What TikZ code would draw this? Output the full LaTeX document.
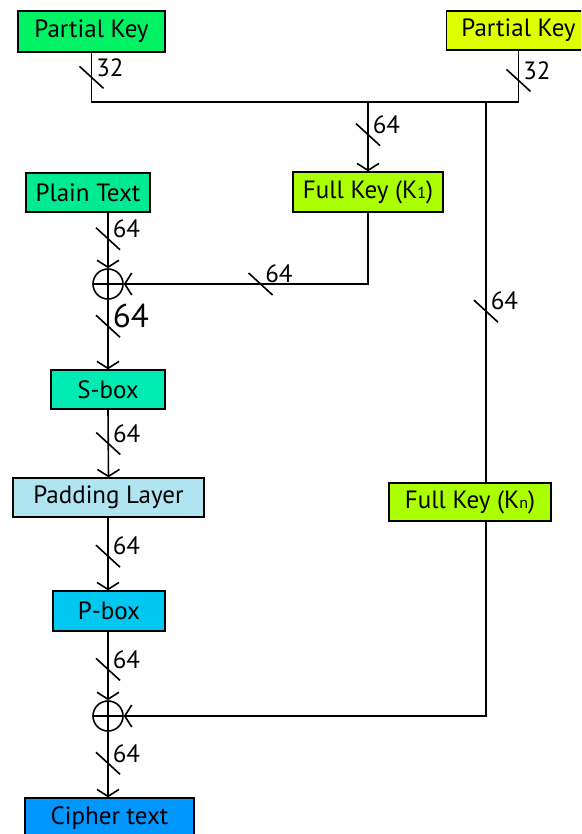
\documentclass[tikz,border=0pt]{standalone}
\usepackage{fontspec}
\setmainfont{PT Sans}
\usetikzlibrary{arrows.meta}
\definecolor{pkleft}{RGB}{0,242,100}
\definecolor{pkright}{RGB}{221,255,0}
\definecolor{plaintxt}{RGB}{0,235,145}
\definecolor{fullkey}{RGB}{170,255,0}
\definecolor{sboxcol}{RGB}{0,235,180}
\definecolor{padcol}{RGB}{175,228,240}
\definecolor{pboxcol}{RGB}{0,200,240}
\definecolor{ciphercol}{RGB}{0,150,255}
\newcommand{\sm}[1]{{\fontsize{16pt}{16pt}\selectfont #1}}
\newcommand{\bignum}[1]{{\fontsize{33pt}{33pt}\selectfont #1}}
\begin{document}
\begin{tikzpicture}[x=1pt,y=-1pt,line width=1.6pt,
  box/.style={draw,line width=1.3pt,minimum height=40pt,inner sep=0pt,
    font=\fontsize{25pt}{25pt}\selectfont},
  xor/.style={draw,circle,minimum size=30pt,inner sep=0pt,
    path picture={\draw (path picture bounding box.west) -- (path picture bounding box.east);
      \draw (path picture bounding box.north) -- (path picture bounding box.south);}},
  bus/.pic={\draw[-] (-12,-11) -- (12,11);
    \node[anchor=west,inner sep=0pt,font=\fontsize{25pt}{25pt}\selectfont] at (4,-10) {#1};},
  >={Straight Barb[length=7pt,width=22pt]}]
\useasboundingbox (0,0) rectangle (581,834);
\clip (0,0) rectangle (581,834);
% boxes
\node[box,fill=pkleft,minimum width=147pt,minimum height=41pt] (pk1) at (91.5,31.5) {Partial Key};
\node[box,fill=pkright,minimum width=144pt,minimum height=39pt] (pk2) at (518.5,30.5) {Partial Key};
\node[box,fill=plaintxt,minimum width=124pt,minimum height=39pt] (plain) at (88,192.5) {Plain Text};
\node[box,fill=fullkey,minimum width=150pt] (k1) at (368,192) {Full Key (K\sm{1})};
\node[xor] (x1) at (108,284) {};
\node[box,fill=sboxcol,minimum width=114pt,minimum height=39pt] (sbox) at (108,389.5) {S-box};
\node[box,fill=padcol,minimum width=191pt,minimum height=39pt] (pad) at (108.5,497.5) {Padding Layer};
\node[box,fill=pboxcol,minimum width=112pt] (pbox) at (109,611) {P-box};
\node[xor] (x2) at (108,716) {};
\node[box,fill=ciphercol,minimum width=169pt] (cipher) at (109.5,818) {Cipher text};
\node[box,fill=fullkey,minimum width=162pt,minimum height=38pt] (kn) at (470,502) {Full Key (K\sm{n})};
\coordinate (j1) at (368,102);
\coordinate (j2) at (486,102);
\coordinate (j3) at (486,716);
% wires
\draw (pk1.south) -- pic[pos=.5]{bus=32} (pk1.south |- j1) -- (pk2.south |- j1)
  -- pic[pos=.42]{bus=32} (pk2.south);
\draw[->] (j1) -- pic[pos=.47]{bus=64} (k1.north);
\draw (j2) -- pic[pos=.55]{bus=64} (j2 |- kn.north);
\draw[->] (plain.south -| x1) -- pic[pos=.47]{bus=64} (x1.north);
\draw[->] (k1.south) |- pic[pos=.72]{bus=64} (x1.east);
\draw[->] (x1.south) -- pic[pos=.38]{bus=\bignum{64}} (sbox.north);
\draw[->] (sbox.south) -- pic[pos=.5]{bus=64} (pad.north);
\draw[->] (pad.south -| sbox) -- pic[pos=.53]{bus=64} (pbox.north -| sbox);
\draw[->] (pbox.south -| x2) -- pic[pos=.55]{bus=64} (x2.north);
\draw[->] (j3 |- kn.south) -- (j3) -- (x2.east);
\draw[->] (x2.south) -- pic[pos=.48]{bus=64} (cipher.north -| x2);
\end{tikzpicture}
\end{document}
